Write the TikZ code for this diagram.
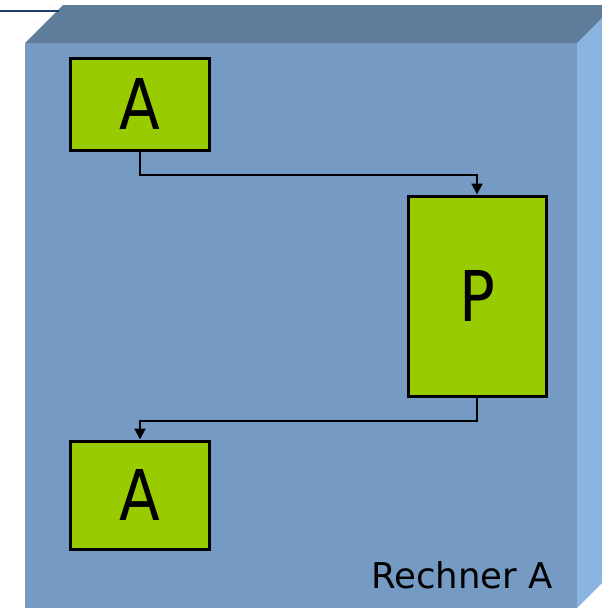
\documentclass[tikz,border=0pt]{standalone}
\usepackage{fontspec}
\setmainfont{DejaVu Sans}
\newfontfamily\boxfont[FakeStretch=0.85]{DejaVu Sans}
\usetikzlibrary{arrows.meta}
\definecolor{frontc}{RGB}{117,155,197}
\definecolor{topc}{RGB}{95,125,155}
\definecolor{sidec}{RGB}{139,181,225}
\definecolor{navyc}{RGB}{30,62,110}
\definecolor{greenc}{RGB}{153,204,0}
\tikzset{
  procbox/.style={draw=black, line width=3pt, fill=greenc, inner sep=0pt,
    font=\boxfont\fontsize{70}{70}\selectfont},
  conn/.style={draw=black, line width=2pt, -{Triangle[length=11pt,width=11pt]}}
}
\begin{document}
\begin{tikzpicture}[x=1pt,y=-1pt]
\useasboundingbox (0,0) rectangle (602,608);
% 3D machine box
\fill[frontc] (25,43) rectangle (577,620);
\fill[topc] (25,43) -- (63,5) -- (640,5) -- (577,43) -- cycle;
\fill[sidec] (577,43) -- (615,5) -- (615,570) -- (577,608) -- cycle;
\draw[navyc, line width=2pt] (0,10.5) -- (59,10.5);
% nodes
\node[procbox, minimum width=139pt, minimum height=92pt, text depth=-3pt] (a1) at (140,104) {A};
\node[procbox, minimum width=138pt, minimum height=200pt, text depth=-2pt] (p) at (477,296) {P};
\node[procbox, minimum width=139pt, minimum height=108pt, text depth=-3pt] (a2) at (140,495) {A};
\node[anchor=base east, font=\fontsize{35.5}{35.5}\selectfont, inner sep=0pt] (lbl) at (553,588) {Rechner A};
% connectors
\draw[conn] (a1.south) -- ++(0,23) -| (p.north);
\draw[conn] (p.south) -- ++(0,23) -| (a2.north);
\end{tikzpicture}
\end{document}
